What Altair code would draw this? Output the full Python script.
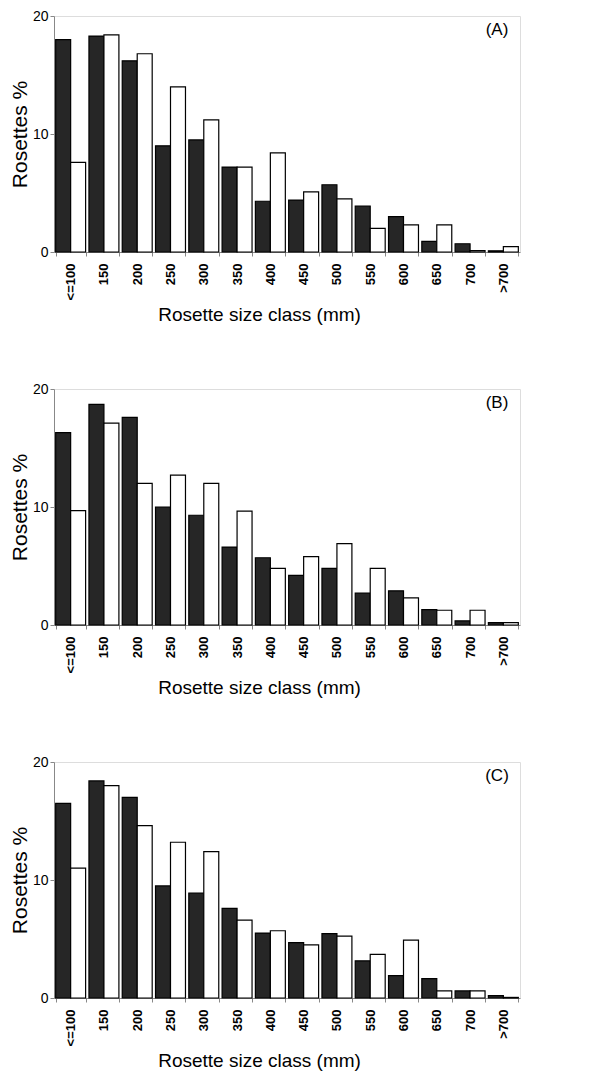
import altair as alt
import pandas as pd

categories = ["<=100", "150", "200", "250", "300", "350", "400", "450",
              "500", "550", "600", "650", "700", ">700"]
series_names = ["Shaded", "Open"]
panel_labels = ["(A)", "(B)", "(C)"]

a_shaded = [18.0, 18.3, 16.2, 9.0, 9.5, 7.2, 4.3, 4.4, 5.7, 3.9, 3.0, 0.9, 0.7, 0.1]
a_open = [7.6, 18.4, 16.8, 14.0, 11.2, 7.2, 8.4, 5.1, 4.5, 2.0, 2.3, 2.3, 0.12, 0.45]
b_shaded = [16.3, 18.7, 17.6, 10.0, 9.3, 6.6, 5.7, 4.2, 4.8, 2.7, 2.9, 1.3, 0.35, 0.2]
b_open = [9.7, 17.1, 12.0, 12.7, 12.0, 9.65, 4.8, 5.8, 6.9, 4.8, 2.3, 1.25, 1.25, 0.2]
c_shaded = [16.5, 18.4, 17.0, 9.5, 8.9, 7.6, 5.5, 4.7, 5.45, 3.15, 1.9, 1.65, 0.6, 0.2]
c_open = [11.0, 18.0, 14.6, 13.2, 12.4, 6.6, 5.7, 4.5, 5.25, 3.7, 4.9, 0.6, 0.6, 0.05]

FONT = "Liberation Sans"


def panel(shaded, open_, label):
    df = pd.DataFrame({
        "cls": categories * 2,
        "series": [series_names[0]] * len(categories) + [series_names[1]] * len(categories),
        "pct": shaded + open_,
    })
    bars = alt.Chart(df).mark_bar(stroke="black", strokeWidth=1.2).encode(
        x=alt.X(
            "cls:N", sort=categories,
            scale=alt.Scale(paddingInner=0.1, paddingOuter=0.05),
            axis=alt.Axis(
                title="Rosette size class (mm)",
                labelAngle=270, labelAlign="right", labelBaseline="middle",
                labelFontSize=13, labelFontWeight="bold", labelPadding=7,
                tickBand="extent", tickSize=4,
                titleFontSize=19, titleFontWeight="normal",
                titleX=205, titleY=53, titleAlign="center", titleBaseline="top",
            ),
        ),
        xOffset=alt.XOffset("series:N", sort=series_names,
                            scale=alt.Scale(paddingInner=0, paddingOuter=0)),
        y=alt.Y(
            "pct:Q", scale=alt.Scale(domain=[0, 20]),
            axis=alt.Axis(
                title="Rosettes %", values=[0, 10, 20], grid=False,
                tickSize=4, labelFontSize=14, labelPadding=2,
                titleFontSize=21, titleFontWeight="normal", titlePadding=2,
            ),
        ),
        fill=alt.Fill("series:N", sort=series_names,
                      scale=alt.Scale(domain=series_names, range=["#262626", "#ffffff"]),
                      legend=None),
    )
    txt = alt.Chart(alt.Data(values=[{"t": label}])).mark_text(
        fontSize=17, font=FONT, align="center", baseline="middle", color="black"
    ).encode(x=alt.value(443), y=alt.value(14), text="t:N")
    return alt.layer(bars, txt).properties(width=466, height=236)


chart = alt.vconcat(
    panel(a_shaded, a_open, panel_labels[0]),
    panel(b_shaded, b_open, panel_labels[1]),
    panel(c_shaded, c_open, panel_labels[2]),
    spacing=56,
).properties(
    padding={"left": 0, "top": 0, "right": 0, "bottom": 0}
).configure_view(
    stroke=None
).configure_axis(
    labelFont=FONT, titleFont=FONT, labelColor="black", titleColor="black",
    domainColor="black", tickColor="black", domainWidth=1.2, tickWidth=1.2,
).configure(background="white")

chart.save("out.html", embed_options={"renderer": "svg", "actions": False})
